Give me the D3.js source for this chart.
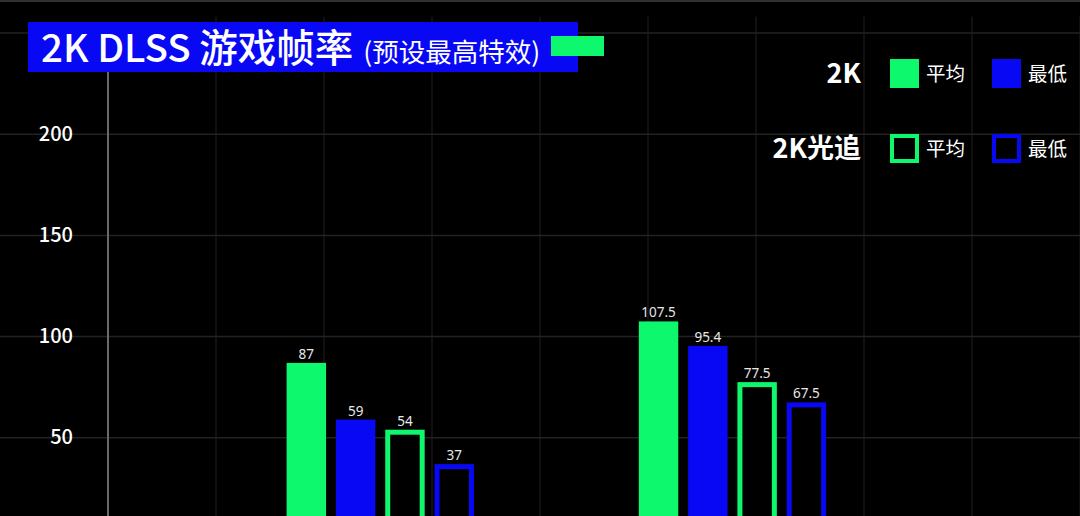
<!DOCTYPE html>
<html>
<head>
<meta charset="utf-8">
<script src="https://cdn.jsdelivr.net/npm/d3@7/dist/d3.min.js"></script>
<style>
  html, body { margin: 0; padding: 0; background: #000; }
  svg { display: block; font-family: "Noto Sans CJK SC", "Noto Sans", sans-serif; }
</style>
</head>
<body>
<svg id="chart" width="1080" height="516"></svg>
<script>
// ---- data ----
const categories = ["游戏一", "游戏二"];
const seriesNames = ["2K 平均", "2K 最低", "2K光追 平均", "2K光追 最低"];
const avg2k = [87, 107.5];
const min2k = [59, 95.4];
const avgRT = [54, 77.5];
const minRT = [37, 67.5];
const gridValues = [50, 100, 150, 200, 250];
const yTickValues = [50, 100, 150, 200];
const yTickLabels = ["50", "100", "150", "200"];
const titleMain = "2K DLSS 游戏帧率";
const titleSub = "(预设最高特效)";
const legendRows = ["2K", "2K光追"];
const legendItems = ["平均", "最低"];

const GREEN = "#0ef86e", BLUE = "#0808f4";
const seriesStyle = [
  { color: GREEN, outline: false },
  { color: BLUE, outline: false },
  { color: GREEN, outline: true },
  { color: BLUE, outline: true }
];
const seriesValues = [avg2k, min2k, avgRT, minRT];

const svg = d3.select("#chart");
const W = 1080, H = 516;
const axisX = 108;

// scales
const y = d3.scaleLinear().domain([0, 250]).range([539, 33]);
const x0 = d3.scaleBand().domain(categories).range([axisX, W])
  .paddingInner(0.44).paddingOuter(0.6).align(0.411);
const x1 = d3.scaleBand().domain(d3.range(seriesNames.length))
  .range([0, x0.bandwidth()]).paddingInner(0.2).paddingOuter(0.1);
const xGrid = d3.scaleLinear().domain([0, 9]).range([axisX, W]);

// top border
svg.append("rect").attr("x", 0).attr("y", 0).attr("width", W).attr("height", 2).attr("fill", "#303030");

// vertical grid
svg.append("g").selectAll("line").data(xGrid.ticks(9).slice(1)).join("line")
  .attr("x1", d => xGrid(d)).attr("x2", d => xGrid(d))
  .attr("y1", y(258)).attr("y2", H)
  .attr("stroke", "#1c1c1c").attr("stroke-width", 1.2);

// horizontal grid
svg.append("g").selectAll("line").data(gridValues).join("line")
  .attr("x1", 0).attr("x2", W)
  .attr("y1", d => y(d)).attr("y2", d => y(d))
  .attr("stroke", "#222").attr("stroke-width", 1.5);

// y labels via axis
const yAxis = d3.axisLeft(y).tickValues(yTickValues)
  .tickFormat((d, i) => yTickLabels[i]).tickSize(0).tickPadding(0);
const gy = svg.append("g").attr("transform", `translate(73,0)`).call(yAxis);
gy.select(".domain").remove();
gy.selectAll(".tick text").attr("fill", "#fff").attr("font-size", 20).attr("font-weight", 500)
  .attr("font-family", "'Noto Sans CJK SC', 'Noto Sans', sans-serif").attr("dy", "0.3em");

// y axis line
svg.append("line").attr("x1", axisX).attr("x2", axisX).attr("y1", 60).attr("y2", H)
  .attr("stroke", "#6a6a6a").attr("stroke-width", 2);

// bars
const SW = 5;
const groups = svg.append("g").selectAll("g").data(categories).join("g")
  .attr("transform", d => `translate(${x0(d)},0)`);
groups.each(function (cat, ci) {
  const g = d3.select(this);
  seriesValues.forEach((vals, si) => {
    const v = vals[ci];
    const st = seriesStyle[si];
    const bx = x1(si), bw = x1.bandwidth();
    const top = y(v), bottom = y(0);
    if (st.outline) {
      g.append("rect")
        .attr("x", bx + SW / 2).attr("y", top + SW / 2)
        .attr("width", bw - SW).attr("height", bottom - top)
        .attr("fill", "#000").attr("stroke", st.color).attr("stroke-width", SW);
    } else {
      g.append("rect")
        .attr("x", bx).attr("y", top)
        .attr("width", bw).attr("height", bottom - top)
        .attr("fill", st.color);
    }
    g.append("text")
      .attr("x", bx + bw / 2).attr("y", top - 4)
      .attr("text-anchor", "middle")
      .attr("fill", "#e8e8e8").attr("font-size", 13.5)
      .attr("font-family", "'Noto Sans', sans-serif")
      .text(v);
  });
});

// title box
svg.append("rect").attr("x", 28).attr("y", 22).attr("width", 550).attr("height", 50).attr("fill", BLUE);
svg.append("rect").attr("x", 551).attr("y", 36).attr("width", 53).attr("height", 20).attr("fill", GREEN);
const title = svg.append("text").attr("x", 41).attr("y", 62).attr("fill", "#fff");
title.append("tspan").attr("font-size", 38.5).attr("font-weight", 500).text(titleMain);
title.append("tspan").attr("font-size", 26.5).attr("font-weight", 400).attr("dx", 10).text(titleSub);

// legend
const legY = [73.5, 148.5];
const legSqX = [890, 992];
const SQ = 29;
legendRows.forEach((row, ri) => {
  svg.append("text").attr("x", 861).attr("y", legY[ri]).attr("dy", "0.36em")
    .attr("text-anchor", "end").attr("fill", "#fff")
    .attr("font-size", 27).attr("font-weight", 700).text(row);
  legendItems.forEach((item, ii) => {
    const st = seriesStyle[ri * 2 + ii];
    const sx = legSqX[ii], sy = legY[ri] - SQ / 2;
    if (st.outline) {
      svg.append("rect").attr("x", sx + 2).attr("y", sy + 2).attr("width", SQ - 4).attr("height", SQ - 4)
        .attr("fill", "#000").attr("stroke", st.color).attr("stroke-width", 4);
    } else {
      svg.append("rect").attr("x", sx).attr("y", sy).attr("width", SQ).attr("height", SQ).attr("fill", st.color);
    }
    svg.append("text").attr("x", sx + SQ + 7).attr("y", legY[ri]).attr("dy", "0.36em")
      .attr("fill", "#fff").attr("font-size", 19.5).text(item);
  });
});
</script>
</body>
</html>
